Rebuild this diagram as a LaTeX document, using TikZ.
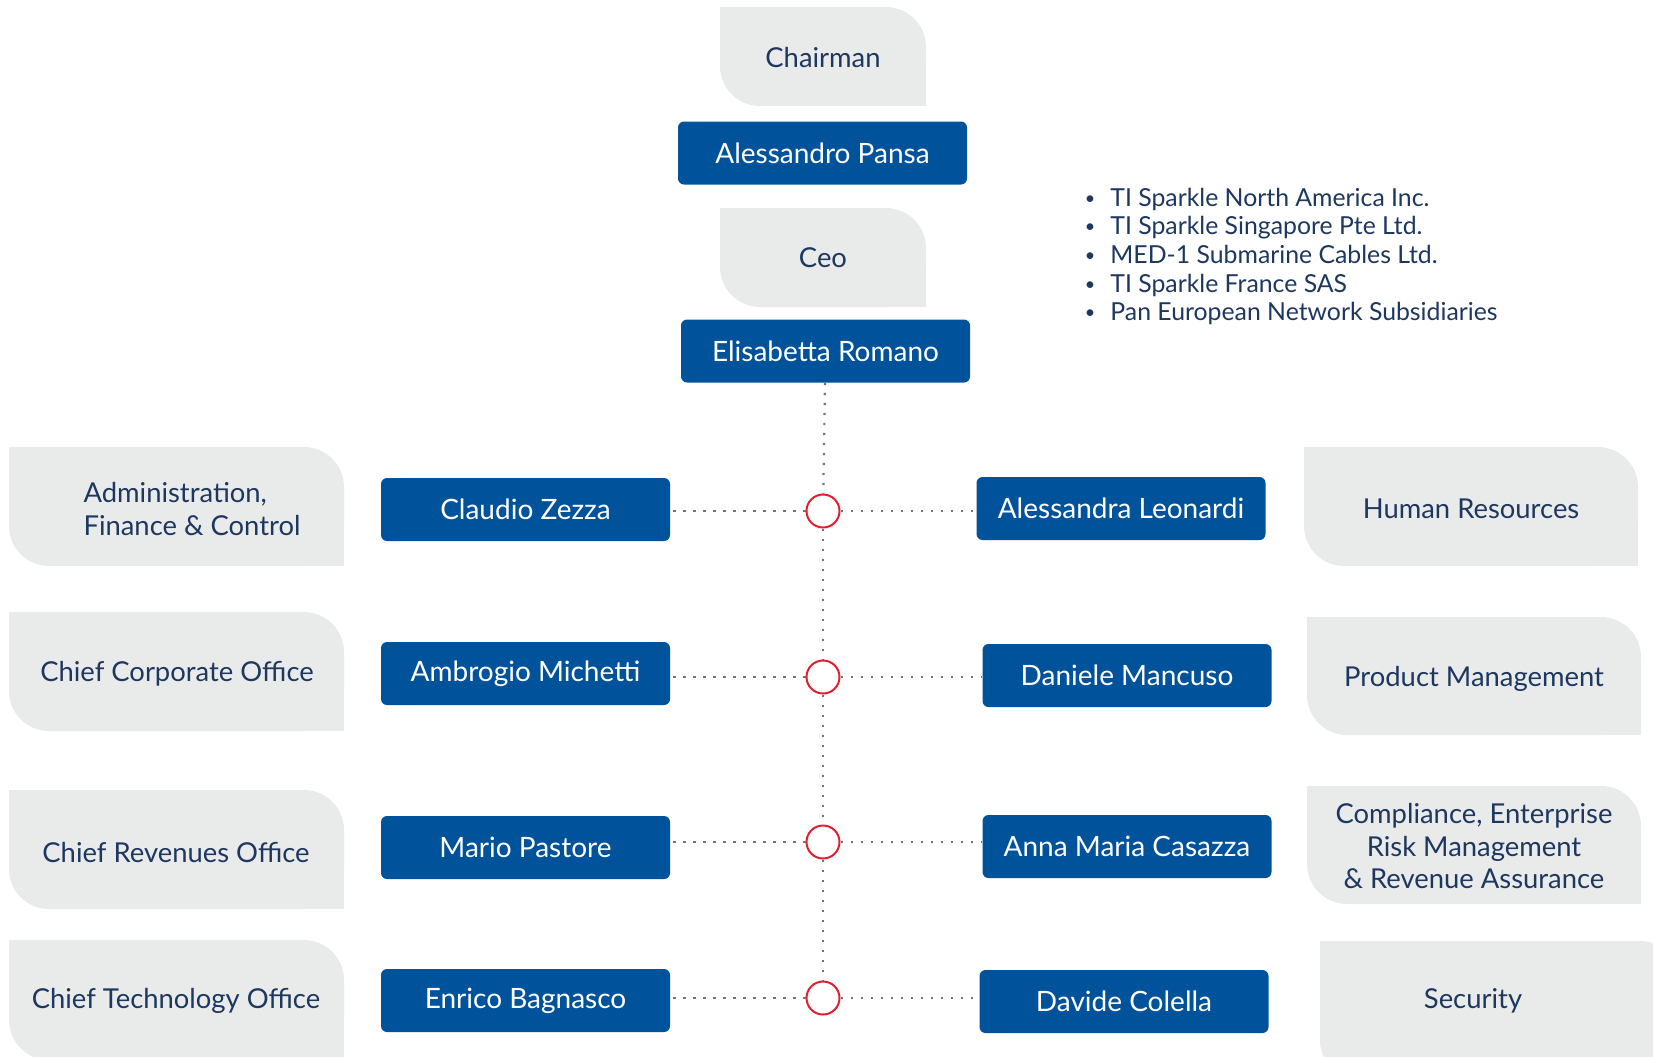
\documentclass[tikz,border=0pt]{standalone}
\usepackage{fontspec}
\setmainfont{Lato}
\usepackage{tikz}
\usetikzlibrary{calc}
\usepackage{xcolor}

\definecolor{sparkblue}{RGB}{0,83,155}
\definecolor{navytext}{RGB}{30,55,95}
\definecolor{unitgrey}{RGB}{233,235,235}
\definecolor{hubred}{RGB}{228,30,48}
\definecolor{dotgrey}{RGB}{115,115,115}

\newcommand{\unitshape}[4]{%
\fill[unitgrey,rounded corners=20pt] (#1,#2) rectangle (#3,#4);
\fill[unitgrey] (#1,#2) rectangle ++(40,40);
\fill[unitgrey] (#3,#4) rectangle ++(-40,-40);
}

\begin{document}
\begin{tikzpicture}[x=0.5pt,y=-0.5pt,
person/.style={fill=sparkblue,text=white,rounded corners=3pt,minimum width=144.5pt,minimum height=31.5pt,inner sep=0pt,font=\fontsize{14}{16}\selectfont},
unit/.style={text=navytext,align=center,inner sep=0pt,font=\fontsize{13.7}{16.3}\selectfont},
subsidiary/.style={text=navytext,inner sep=0pt,font=\fontsize{12.4}{14}\selectfont},
hub/.style={circle,draw=hubred,line width=1pt,fill=white,minimum size=16.5pt,inner sep=0pt},
link/.style={draw=dotgrey,line width=1.1pt,dash pattern=on 1.1pt off 3.9pt}]

\useasboundingbox (0,0) rectangle (1653,1056);

% top
\unitshape{720}{7}{926}{106}
\node[unit] (chairman) at (823,58) {Chairman};
\node[person] (pansa) at (822.5,153) {Alessandro Pansa};
\unitshape{720}{208}{926}{307}
\node[unit] (ceo) at (823,258) {Ceo};
\node[person] (romano) at (825.5,351) {Elisabetta Romano};

\foreach \txt [count=\i from 0] in {TI Sparkle North America Inc.,TI Sparkle Singapore Pte Ltd.,MED-1 Submarine Cables Ltd.,TI Sparkle France SAS,Pan European Network Subsidiaries}
{
\node[subsidiary,anchor=base,font=\fontsize{9}{10}\selectfont] (dot\i) at (1090,204+28.7*\i) {\textbullet};
\node[subsidiary,anchor=base west] (sub\i) at (1110,206+28.7*\i) {\txt};
}

% left
\unitshape{9}{447}{344}{566}
\node[unit,align=left] (afc) at (192,509) {Administration,\\Finance \& Control};
\unitshape{9}{612}{344}{731}
\node[unit] (cco) at (177,674) {Chief Corporate Office};
\unitshape{9}{790}{344}{909}
\node[unit] (cro) at (176,852) {Chief Revenues Office};
\unitshape{9}{940}{344}{1060}
\node[unit] (cto) at (176,1001) {Chief Technology Office};

\node[person] (zezza) at (525.5,509.5) {Claudio Zezza};
\node[person] (michetti) at (525.5,673.5) {Ambrogio Michetti};
\node[person] (pastore) at (525.5,847.5) {Mario Pastore};
\node[person] (bagnasco) at (525.5,1000.5) {Enrico Bagnasco};

% right
\node[person] (leonardi) at (1121,508.5) {Alessandra Leonardi};
\node[person] (mancuso) at (1127,675.5) {Daniele Mancuso};
\node[person] (casazza) at (1127,846.5) {Anna Maria Casazza};
\node[person] (colella) at (1124,1001.5) {Davide Colella};

\unitshape{1304}{447}{1638}{566}
\node[unit] (hr) at (1471,509) {Human Resources};
\unitshape{1307}{617}{1641}{735}
\node[unit] (pm) at (1474,679) {Product Management};
\unitshape{1307}{786}{1641}{904}
\node[unit] (cerm) at (1474,846) {Compliance, Enterprise\\Risk Management\\\& Revenue Assurance};
\unitshape{1320}{941}{1680}{1080}
\node[unit] (sec) at (1473,1001) {Security};

% spine
\node[hub] (hub1) at (823,511) {};
\node[hub] (hub2) at (823,677) {};
\node[hub] (hub3) at (823,842) {};
\node[hub] (hub4) at (823,998) {};

\draw[link] (romano) -- (hub1);
\draw[link] (hub1) -- (hub2);
\draw[link] (hub2) -- (hub3);
\draw[link] (hub3) -- (hub4);

\draw[link] (hub1) -- (hub1 -| zezza.east);
\draw[link] (hub1) -- (hub1 -| leonardi.west);
\draw[link] (hub2) -- (hub2 -| michetti.east);
\draw[link] (hub2) -- (hub2 -| mancuso.west);
\draw[link] (hub3) -- (hub3 -| pastore.east);
\draw[link] (hub3) -- (hub3 -| casazza.west);
\draw[link] (hub4) -- (hub4 -| bagnasco.east);
\draw[link] (hub4) -- (hub4 -| colella.west);

\end{tikzpicture}
\end{document}
